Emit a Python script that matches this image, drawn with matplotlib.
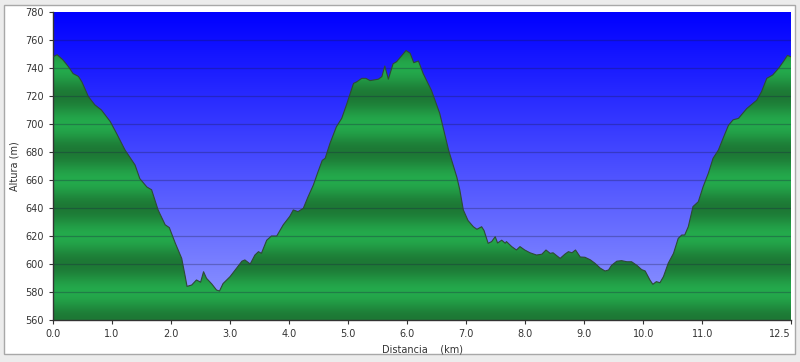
import numpy as np
import matplotlib
matplotlib.use("Agg")
from matplotlib import pyplot as plt
from matplotlib.patches import Rectangle

# elevation profile (km, m)
dist = [0.00, 0.07, 0.17, 0.26, 0.34, 0.43, 0.49, 0.60, 0.71, 0.82, 0.97, 1.08, 1.22, 1.39,
        1.47, 1.59, 1.67, 1.78, 1.90, 1.97, 2.07, 2.12, 2.18, 2.24, 2.27, 2.35, 2.43, 2.50,
        2.55, 2.60, 2.69, 2.77, 2.82, 2.88, 3.00, 3.11, 3.20, 3.25, 3.34, 3.42, 3.48, 3.53,
        3.62, 3.70, 3.79, 3.90, 4.01, 4.07, 4.15, 4.24, 4.32, 4.41, 4.49, 4.56, 4.61, 4.69,
        4.80, 4.89, 4.97, 5.09, 5.14, 5.23, 5.30, 5.37, 5.51, 5.57, 5.62, 5.68, 5.76, 5.82,
        5.91, 5.98, 6.05, 6.11, 6.19, 6.27, 6.41, 6.55, 6.70, 6.84, 6.89, 6.95, 7.03, 7.12,
        7.18, 7.26, 7.30, 7.37, 7.43, 7.49, 7.53, 7.60, 7.66, 7.68, 7.77, 7.85, 7.91, 7.99,
        8.08, 8.19, 8.28, 8.35, 8.42, 8.47, 8.59, 8.67, 8.73, 8.79, 8.85, 8.93, 9.01, 9.10,
        9.18, 9.27, 9.35, 9.41, 9.46, 9.55, 9.63, 9.72, 9.80, 9.89, 9.97, 10.03, 10.11, 10.16,
        10.22, 10.28, 10.34, 10.42, 10.51, 10.59, 10.65, 10.70, 10.76, 10.84, 10.93, 11.01,
        11.10, 11.18, 11.27, 11.35, 11.44, 11.52, 11.61, 11.75, 11.92, 12.00, 12.09, 12.19,
        12.29, 12.37, 12.44, 12.50]
alt = [748.0, 749.5, 745.7, 741.0, 736.0, 734.0, 730.0, 719.5, 713.6, 710.0, 701.7, 693.0, 681.4, 670.7,
       661.0, 655.0, 653.0, 638.6, 628.0, 626.0, 615.0, 610.0, 604.0, 591.0, 584.0, 585.0, 588.6, 587.0,
       594.5, 589.8, 585.7, 581.4, 580.7, 586.0, 591.0, 597.0, 602.0, 602.9, 600.0, 606.4, 608.8, 607.6,
       617.0, 620.0, 620.0, 628.0, 634.0, 638.6, 637.4, 639.8, 648.0, 656.4, 666.0, 674.0, 675.5, 686.0,
       698.0, 704.0, 713.6, 729.0, 730.0, 732.6, 732.6, 731.0, 732.0, 733.8, 741.4, 732.0, 743.0, 744.5,
       749.0, 752.5, 750.5, 743.8, 745.0, 736.0, 724.0, 707.6, 681.4, 662.0, 653.0, 638.6, 631.0, 626.6,
       624.8, 626.6, 624.0, 614.8, 616.0, 619.5, 615.0, 617.0, 614.8, 616.0, 612.4, 610.0, 612.4, 610.0,
       608.0, 606.4, 607.0, 610.0, 607.6, 608.0, 604.0, 607.0, 608.8, 608.0, 610.0, 605.0, 604.8, 603.0,
       600.5, 597.0, 595.0, 595.7, 599.0, 602.0, 602.4, 601.6, 601.6, 599.0, 596.0, 595.0, 588.6, 585.5,
       587.4, 586.6, 591.0, 600.5, 607.6, 618.3, 620.7, 620.7, 626.6, 641.0, 644.5, 655.0,
       664.8, 675.5, 681.4, 689.8, 699.0, 703.0, 704.0, 711.0, 717.0, 723.0, 732.6, 735.0,
       739.8, 744.5, 749.0, 748.0]

x_ticks = [0, 1, 2, 3, 4, 5, 6, 7, 8, 9, 10, 11, 12.5]
y_ticks = list(range(560, 781, 20))

fig = plt.figure(figsize=(8, 3.62), dpi=100, facecolor="#ececec")
panel = Rectangle((4 / 800, 1 - 354 / 362), 791 / 800, 349 / 362,
                  transform=fig.transFigure, facecolor="white",
                  edgecolor="#a8a8a8", linewidth=1, zorder=-10)
fig.patches.append(panel)

ax = fig.add_axes([53 / 800, 42 / 362, 738 / 800, 308 / 362])
ax.set_zorder(1)
ax.set_xlim(0, 12.5)
ax.set_ylim(560, 780)

# sky: blue at top fading to lavender
h = np.linspace(0, 1, 256)[:, None]
top = np.array([0, 0, 255]) / 255
bot = np.array([148, 156, 255]) / 255
sky = (top * (1 - h) + bot * h)[:, None, :].repeat(2, axis=1)
ax.imshow(sky, extent=[0, 12.5, 560, 780], aspect="auto", zorder=0)

# ground: green bands, light at 580/620/... and dark at 560/600/...
e = np.linspace(780, 560, 600)
t = 0.5 * (1 + np.cos(2 * np.pi * (e - 580) / 40))
light = np.array([36, 170, 76]) / 255
dark = np.array([29, 120, 53]) / 255
band = (dark * (1 - t[:, None]) + light * t[:, None])[:, None, :].repeat(2, axis=1)
im = ax.imshow(band, extent=[0, 12.5, 560, 780], aspect="auto", zorder=1)
poly = ax.fill_between(dist, alt, 560, facecolor="none", edgecolor="none", zorder=1)
im.set_clip_path(poly.get_paths()[0], transform=ax.transData)

for yv in y_ticks[1:-1]:
    ax.axhline(yv, color=(0.1, 0.1, 0.25, 0.3), linewidth=0.9, zorder=2)
ax.plot(dist, alt, color="#2e4a35", linewidth=0.8, zorder=3)

ax.set_xticks(x_ticks)
ax.set_xticklabels([f"{v:.1f}" for v in x_ticks])
ax.get_xticklabels()[-1].set_horizontalalignment("right")
ax.set_yticks(y_ticks)
ax.tick_params(direction="out", length=3, width=0.8, labelsize=7, colors="#333333")
for s in ["top", "right"]:
    ax.spines[s].set_visible(False)
for s in ["left", "bottom"]:
    ax.spines[s].set_color("#333333")
    ax.spines[s].set_linewidth(1)

ax.set_xlabel("Distancia    (km)", fontsize=7, color="#333333", labelpad=4)
ax.set_ylabel("Altura (m)", fontsize=7, color="#333333", labelpad=4)

fig.savefig("out.png", dpi=100, facecolor=fig.get_facecolor())
